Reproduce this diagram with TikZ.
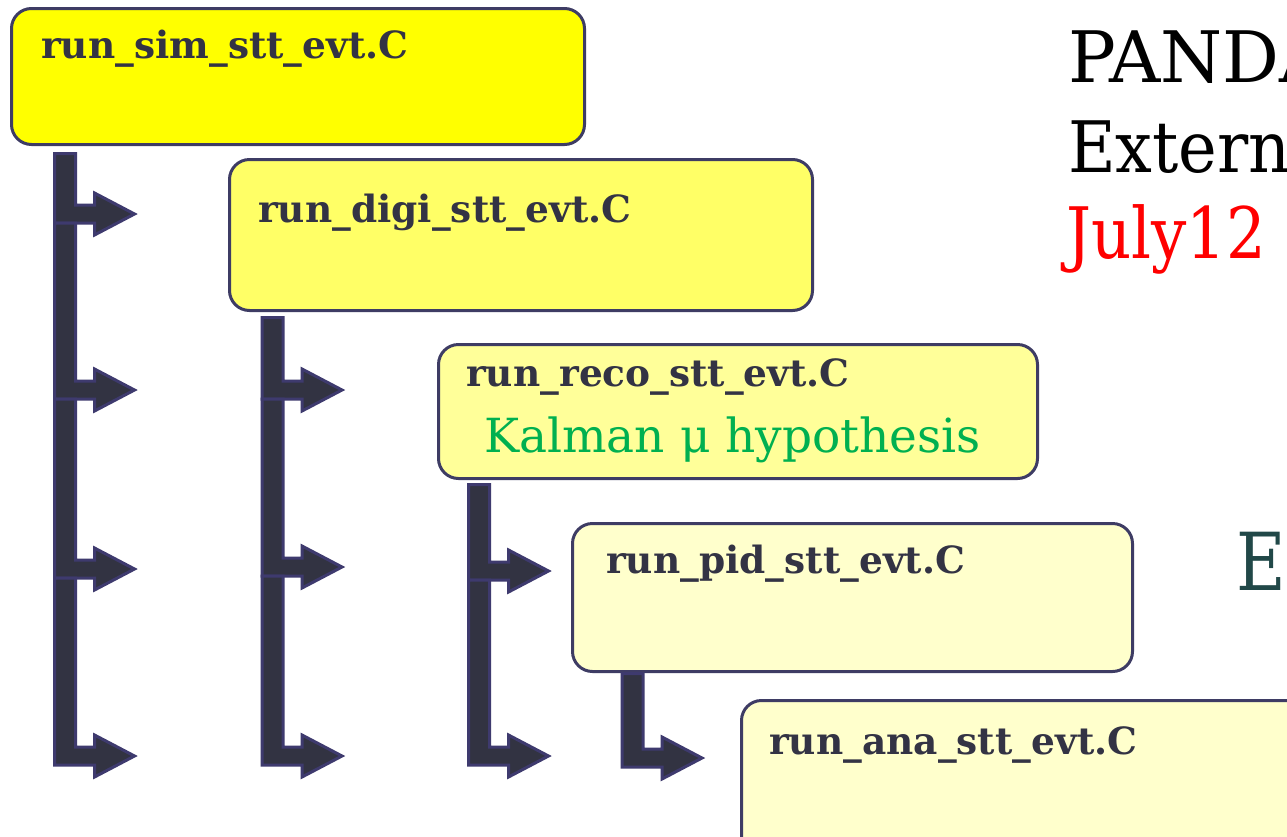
\documentclass[tikz,border=0pt]{standalone}
\usepackage{fontspec}
\setmainfont{DejaVu Serif}
\definecolor{boxline}{RGB}{62,60,100}
\definecolor{arrfill}{RGB}{50,51,66}
\definecolor{arrline}{RGB}{62,58,110}
\definecolor{titlecol}{RGB}{51,51,68}
\definecolor{fillA}{RGB}{255,255,0}
\definecolor{fillB}{RGB}{255,255,102}
\definecolor{fillC}{RGB}{255,255,153}
\definecolor{fillD}{RGB}{255,255,204}
\definecolor{kalman}{RGB}{0,176,80}
\definecolor{tealE}{RGB}{33,72,72}
\newcommand{\blockarrow}[4]{% #1 left x, #2 top y, #3 head centre y, #4 name
  \draw[blockarr] (#1,#2) -- ++(21,0) |- (#1+40,#3-9) -- (#1+40,#3-21)
    -- (#1+80,#3) coordinate (#4) -- (#1+40,#3+21) -- (#1+40,#3+9) -- (#1,#3+9) -- cycle;}
\tikzset{
  stagebox/.style={draw=boxline, line width=3pt, rounded corners=20pt, anchor=north west, inner sep=0pt},
  stagetitle/.style={anchor=base west, inner sep=0pt, text=titlecol, font=\fontsize{37.5}{42}\selectfont\bfseries},
  blockarr/.style={fill=arrfill, draw=arrline, line width=3pt, line join=miter},
  bigtext/.style={anchor=base west, inner sep=0pt, font=\fontsize{71}{80}\selectfont}
}
\begin{document}
\begin{tikzpicture}[x=1pt,y=-1pt]
\useasboundingbox (0,0) rectangle (1287,836);
\clip (0,0) rectangle (1287,836);
\fill[white] (0,0) rectangle (1287,836);

% boxes
\node[stagebox, fill=fillA, minimum width=573pt, minimum height=136pt] (sim) at (10,7) {};
\node[stagetitle] (simt) at (41,58) {run\_sim\_stt\_evt.C};

\node[stagebox, fill=fillB, minimum width=583pt, minimum height=151pt] (digi) at (228,158) {};
\node[stagetitle] (digit) at (258,222) {run\_digi\_stt\_evt.C};

\node[stagebox, fill=fillC, minimum width=599pt, minimum height=134pt] (reco) at (437,343) {};
\node[stagetitle] (recot) at (466,386) {run\_reco\_stt\_evt.C};
\node[anchor=base west, inner sep=0pt, text=kalman, font=\fontsize{47}{54}\selectfont] (kal) at (484,452) {Kalman μ hypothesis};

\node[stagebox, fill=fillD, minimum width=560pt, minimum height=148pt] (pid) at (571,522) {};
\node[stagetitle] (pidt) at (606,573) {run\_pid\_stt\_evt.C};

\node[stagebox, fill=fillD, minimum width=600pt, minimum height=160pt] (ana) at (740,699) {};
\node[stagetitle] (anat) at (769,754) {run\_ana\_stt\_evt.C};

% right-hand text
\node[bigtext] (panda) at (1068,82) {PANDA};
\node[bigtext] (ext) at (1068,172) {\scalebox{0.92}[1]{Extern}};
\node[bigtext, text=red] (july) at (1066,258) {\scalebox{0.88}[1]{July12}};
\node[anchor=base west, inner sep=0pt, text=tealE, font=\fontsize{80}{90}\selectfont] (eE) at (1236,590) {\scalebox{0.85}[1]{E}};

% column 1
\blockarrow{54.5}{153.5}{214}{a11}
\blockarrow{54.5}{223}{390}{a12}
\blockarrow{54.5}{399}{569}{a13}
\blockarrow{54.5}{578}{756}{a14}
% column 2
\blockarrow{262}{317.5}{390}{a22}
\blockarrow{262}{399}{567}{a23}
\blockarrow{262}{576}{756}{a24}
% column 3
\blockarrow{468.5}{484.5}{571}{a33}
\blockarrow{468.5}{580}{756}{a34}
% column 4
\blockarrow{622}{673.5}{758}{a44}
\end{tikzpicture}
\end{document}
